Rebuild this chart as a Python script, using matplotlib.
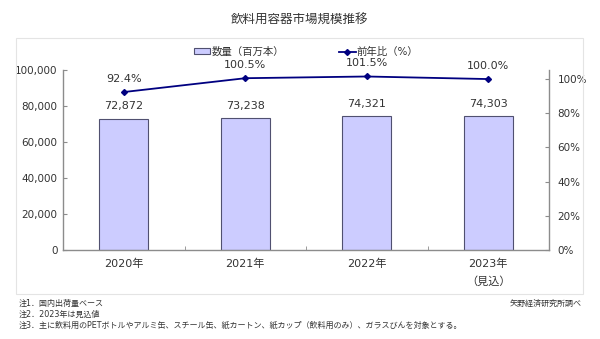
import matplotlib.pyplot as plt
import matplotlib.patches as mpatches
from matplotlib.lines import Line2D
from matplotlib.ticker import FuncFormatter
import numpy as np

plt.rcParams['font.family'] = ['DejaVu Sans', 'Noto Sans CJK JP']

years = ['2020年', '2021年', '2022年', '2023年\n（見込）']
volume = [72872, 73238, 74321, 74303]      # 百万本
yoy = [92.4, 100.5, 101.5, 100.0]          # %

notes = [
    '注1．国内出荷量ベース',
    '注2．2023年は見込値',
    '注3．主に飲料用のPETボトルやアルミ缶、スチール缶、紙カートン、紙カップ（飲料用のみ）、ガラスびんを対象とする。',
]

bar_color = '#ccccff'
bar_edge = '#505070'
line_color = '#000080'
axis_color = '#8c8c8c'
text_color = '#333333'

fig = plt.figure(figsize=(6.0, 3.39), dpi=100)

# light frame around the plot area
frame = mpatches.Rectangle((16 / 600, 1 - 294 / 339), 567 / 600, 256 / 339,
                           transform=fig.transFigure, fill=False,
                           edgecolor='#e4e4e4', linewidth=0.8)
fig.patches.append(frame)

ax = fig.add_axes([63 / 600, 1 - 250 / 339, 486 / 600, 180 / 339])
x = np.arange(len(years))
ax.bar(x, volume, width=0.40, color=bar_color, edgecolor=bar_edge, linewidth=0.8, zorder=2)
for xi, v in zip(x, volume):
    ax.text(xi, v + 7000, f'{v:,}', ha='center', va='center', fontsize=8, color=text_color)

ax.set_xlim(-0.5, len(years) - 0.5)
ax.set_ylim(0, 100000)
ax.set_yticks(np.arange(0, 100001, 20000))
ax.yaxis.set_major_formatter(FuncFormatter(lambda v, p: f'{int(v):,}'))
ax.set_xticks(x)
ax.set_xticklabels(years, fontsize=8, color=text_color, linespacing=1.9)
ax.set_xticks(np.arange(0.5, len(years) - 1, 1.0), minor=True)
ax.tick_params(axis='x', which='major', length=0, pad=6)
ax.tick_params(axis='x', which='minor', direction='in', length=3, color=axis_color)
ax.tick_params(axis='y', direction='in', length=3, color=axis_color, labelsize=7.5,
               labelcolor=text_color, pad=4)
for s in ['top', 'right']:
    ax.spines[s].set_visible(False)
for s in ['left', 'bottom']:
    ax.spines[s].set_color(axis_color)
    ax.spines[s].set_linewidth(1.0)

ax2 = ax.twinx()
ax2.plot(x, yoy, color=line_color, linewidth=1.3, marker='D', markersize=3, zorder=3)
for xi, v in zip(x, yoy):
    ax2.text(xi, v + 7.8, f'{v:.1f}%', ha='center', va='center', fontsize=8, color=text_color)
ax2.set_ylim(0, 105.3)
ax2.set_yticks(np.arange(0, 101, 20))
ax2.yaxis.set_major_formatter(FuncFormatter(lambda v, p: f'{int(v)}%'))
ax2.tick_params(axis='y', direction='in', length=3, color=axis_color, labelsize=7.5,
                labelcolor=text_color, pad=6)
for s in ['top', 'left', 'bottom']:
    ax2.spines[s].set_visible(False)
ax2.spines['right'].set_color(axis_color)
ax2.spines['right'].set_linewidth(1.0)

# legend above the plot
handles = [
    mpatches.Patch(facecolor=bar_color, edgecolor=bar_edge, linewidth=0.8, label='数量（百万本）'),
    Line2D([0], [0], color=line_color, linewidth=1.3, marker='D', markersize=3, label='前年比（%）'),
]
fig.legend(handles=handles, loc='center', bbox_to_anchor=(306 / 600, 1 - 52 / 339), ncol=2,
           frameon=False, fontsize=7.5, columnspacing=5.3, handlelength=1.6,
           handleheight=0.5, handletextpad=0.1, labelcolor=text_color)

fig.text(0.5, 1 - 20 / 339, '飲料用容器市場規模推移', ha='center', va='center',
         fontsize=9, color=text_color)

for i, n in enumerate(notes):
    fig.text(19 / 600, 1 - (303 + i * 11) / 339, n, ha='left', va='center',
             fontsize=5.8, color=text_color)
fig.text(582 / 600, 1 - 303 / 339, '矢野経済研究所調べ', ha='right', va='center',
         fontsize=5.8, color=text_color)

fig.savefig('out.png', dpi=100, facecolor='white')
